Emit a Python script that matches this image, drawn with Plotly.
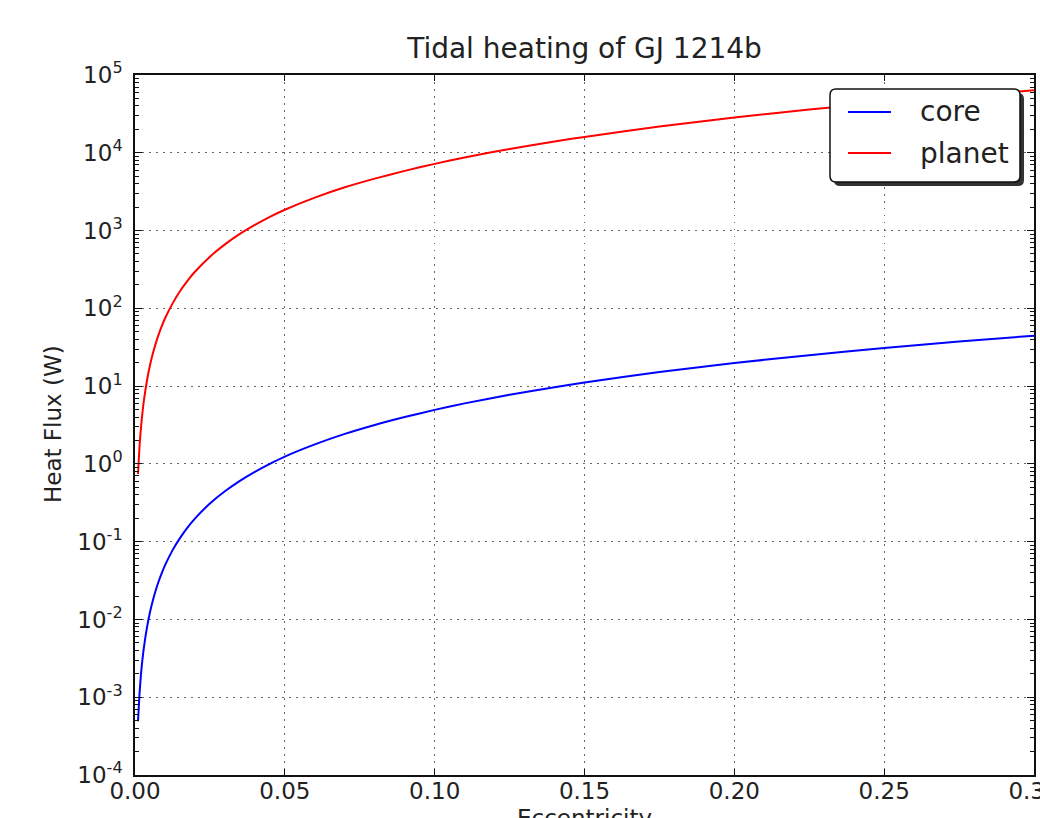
import plotly.graph_objects as go

# Eccentricity samples
eccentricity = [0.001, 0.0015, 0.002, 0.0025, 0.003, 0.004, 0.005, 0.006, 0.007, 0.008,
                0.009, 0.01, 0.0125, 0.015, 0.0175, 0.02, 0.025, 0.03, 0.035, 0.04,
                0.045, 0.05, 0.06, 0.07, 0.08, 0.09, 0.1, 0.11, 0.125, 0.14,
                0.15, 0.175, 0.2, 0.225, 0.25, 0.275, 0.3]

# Heat flux (W)
core = [4.9e-4, 1.1e-3, 1.98e-3, 3.1e-3, 4.45e-3, 7.9e-3, 0.0124, 0.0178, 0.0243, 0.0317,
        0.040, 0.0495, 0.0773, 0.111, 0.152, 0.198, 0.31, 0.445, 0.606, 0.79,
        1.0, 1.24, 1.78, 2.43, 3.17, 4.0, 4.95, 6.0, 7.73, 9.7,
        11.1, 15.2, 19.8, 25.0, 31.0, 37.4, 44.5]
planet = [0.74, 1.66, 2.95, 4.6, 6.65, 11.8, 18.5, 26.6, 36.2, 47.3,
          60.0, 74.0, 115.0, 166.0, 226.0, 295.0, 462.0, 665.0, 905.0, 1180.0,
          1500.0, 1850.0, 2650.0, 3600.0, 4650.0, 5850.0, 7200.0, 8700.0, 11200.0, 14000.0,
          16000.0, 21700.0, 28400.0, 35900.0, 44200.0, 53400.0, 63500.0]

series_names = ["core", "planet"]
series_colors = ["#0000ff", "#ff0000"]

x_ticks = [0.0, 0.05, 0.10, 0.15, 0.20, 0.25, 0.30]
y_exponents = [-4, -3, -2, -1, 0, 1, 2, 3, 4, 5]

FONT = "DejaVu Sans"
TXT = "#222222"

W, H = 1040, 818
# plot area in pixels
L, R, T, B = 135, 1034, 75, 775


def px(xw):
    return (xw - L) / (R - L)


def py(yw):
    return 1 - (yw - T) / (B - T)


fig = go.Figure()
for name, vals, col in zip(series_names, [core, planet], series_colors):
    fig.add_trace(go.Scatter(x=eccentricity, y=vals, mode="lines", name=name,
                             line=dict(color=col, width=2, shape="spline", smoothing=0.6),
                             showlegend=False))

fig.update_layout(
    width=W, height=H,
    margin=dict(l=L, r=W - R, t=T, b=H - B, autoexpand=False),
    paper_bgcolor="white", plot_bgcolor="white",
    font=dict(family=FONT, color=TXT, size=23),
    title=dict(text="Tidal heating of GJ 1214b", x=0.5, xref="paper",
               y=1 - 48 / H, yref="container", xanchor="center", yanchor="middle",
               font=dict(size=28, family=FONT, color=TXT)),
    showlegend=False,
)

fig.update_xaxes(
    range=[0, 0.3], tickvals=x_ticks, ticktext=[f"{v:.2f}" for v in x_ticks],
    ticklabeloverflow="allow",
    showline=True, linecolor="#111111", linewidth=1.5, mirror="ticks",
    ticks="inside", ticklen=6, tickcolor="#111111", tickwidth=1,
    showgrid=True, gridcolor="#666666", griddash="1.5px,5.5px", gridwidth=1,
    zeroline=False, tickfont=dict(size=23, family=FONT, color=TXT),
    ticklabelstandoff=-5,
)

fig.update_yaxes(
    type="log", range=[-4, 5],
    tickvals=[10.0 ** e for e in y_exponents],
    ticktext=[f"10<sup>{e}</sup>" for e in y_exponents],
    showline=True, linecolor="#111111", linewidth=1.5, mirror="ticks",
    ticks="inside", ticklen=7, tickcolor="#111111", tickwidth=1,
    minor=dict(ticks="inside", ticklen=4, tickcolor="#111111", tickwidth=1,
               dtick="D1", showgrid=False),
    showgrid=True, gridcolor="#666666", griddash="1.5px,5.5px", gridwidth=1,
    zeroline=False, tickfont=dict(size=23, family=FONT, color=TXT),
    ticklabelstandoff=6,
)

# Y axis title
fig.add_annotation(text="Heat Flux (W)", xref="paper", yref="paper",
                   x=px(53), y=py(424), xanchor="center", yanchor="middle",
                   textangle=-90, showarrow=False,
                   font=dict(size=23, family=FONT, color=TXT))
# X axis title (cut off at the bottom like the reference)
fig.add_annotation(text="Eccentricity", xref="paper", yref="paper",
                   x=0.5, y=py(803), xanchor="center", yanchor="top",
                   showarrow=False, font=dict(size=23, family=FONT, color=TXT))

# Legend box (rounded, with shadow)
lx0, lx1, ly0, ly1 = 830, 1020, 89, 182
rad = 6


def rounded_path(x0, y0, x1, y1, rr):
    pts = [
        f"M {px(x0 + rr)} {py(y0)}",
        f"L {px(x1 - rr)} {py(y0)}",
        f"Q {px(x1)} {py(y0)} {px(x1)} {py(y0 + rr)}",
        f"L {px(x1)} {py(y1 - rr)}",
        f"Q {px(x1)} {py(y1)} {px(x1 - rr)} {py(y1)}",
        f"L {px(x0 + rr)} {py(y1)}",
        f"Q {px(x0)} {py(y1)} {px(x0)} {py(y1 - rr)}",
        f"L {px(x0)} {py(y0 + rr)}",
        f"Q {px(x0)} {py(y0)} {px(x0 + rr)} {py(y0)}",
        "Z",
    ]
    return " ".join(pts)


fig.add_shape(type="path", xref="paper", yref="paper",
              path=rounded_path(lx0 + 4, ly0 + 4, lx1 + 4, ly1 + 4, rad),
              fillcolor="#333333", line=dict(width=0), layer="above")
fig.add_shape(type="path", xref="paper", yref="paper",
              path=rounded_path(lx0, ly0, lx1, ly1, rad),
              fillcolor="white", line=dict(color="#111111", width=1.5), layer="above")

row_y = [112, 153]
for name, col, yy in zip(series_names, series_colors, row_y):
    fig.add_shape(type="line", xref="paper", yref="paper",
                  x0=px(848), x1=px(891), y0=py(yy), y1=py(yy),
                  line=dict(color=col, width=2), layer="above")
    fig.add_annotation(text=name, xref="paper", yref="paper",
                       x=px(918), y=py(yy), xanchor="left", yanchor="middle",
                       showarrow=False, font=dict(size=28, family=FONT, color=TXT))

fig.write_html(
    "out.html",
    config={"displayModeBar": False},
    post_script="document.body.style.margin='0';document.body.style.overflow='hidden';",
)
